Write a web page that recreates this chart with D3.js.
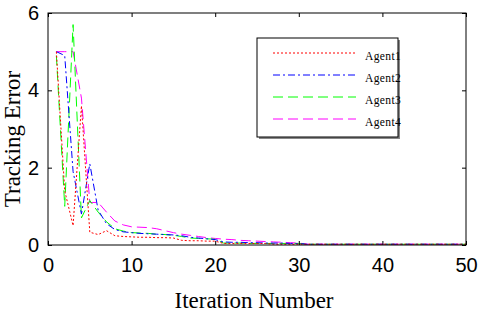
<!DOCTYPE html>
<html>
<head>
<meta charset="utf-8">
<script src="https://cdn.jsdelivr.net/npm/d3@7"></script>
<style>
  body { margin: 0; background: #fff; }
  svg { display: block; }
</style>
</head>
<body>
<div id="chart"></div>
<script>
const iterations = d3.range(1, 51)
const agent1 = [5, 1.4, 0.5, 3.6, 0.33, 0.27, 0.37, 0.24, 0.22, 0.21,
  0.2, 0.2, 0.19, 0.19, 0.18, 0.12, 0.11, 0.11, 0.1, 0.1,
  0.04, 0.04, 0.04, 0.04, 0.04, 0.04, 0.02, 0.02, 0.02, 0.02,
  0.02, 0.02, 0.02, 0.02, 0.02, 0.02, 0.02, 0.02, 0.02, 0.02,
  0.02, 0.02, 0.02, 0.02, 0.02, 0.02, 0.02, 0.02, 0.02, 0.02]
const agent2 = [5, 4.9, 1.9, 0.8, 2.1, 0.9, 0.55, 0.4, 0.34, 0.32,
  0.3, 0.29, 0.28, 0.27, 0.26, 0.24, 0.2, 0.18, 0.16, 0.14,
  0.08, 0.07, 0.07, 0.06, 0.06, 0.05, 0.05, 0.05, 0.04, 0.04,
  0.02, 0.02, 0.02, 0.02, 0.02, 0.02, 0.02, 0.02, 0.02, 0.02,
  0.02, 0.02, 0.02, 0.02, 0.02, 0.02, 0.02, 0.02, 0.02, 0.02]
const agent3 = [4.9, 1.0, 5.7, 0.7, 1.15, 0.85, 0.6, 0.42, 0.36, 0.32,
  0.31, 0.3, 0.28, 0.27, 0.25, 0.22, 0.18, 0.17, 0.16, 0.15,
  0.05, 0.05, 0.05, 0.04, 0.04, 0.04, 0.04, 0.04, 0.04, 0.04,
  0.02, 0.02, 0.02, 0.02, 0.02, 0.02, 0.02, 0.02, 0.02, 0.02,
  0.02, 0.02, 0.02, 0.02, 0.02, 0.02, 0.02, 0.02, 0.02, 0.02]
const agent4 = [5, 5, 5, 3.8, 1.1, 1.1, 0.85, 0.62, 0.52, 0.47,
  0.46, 0.45, 0.42, 0.37, 0.32, 0.28, 0.25, 0.22, 0.19, 0.17,
  0.15, 0.14, 0.12, 0.11, 0.1, 0.09, 0.08, 0.07, 0.06, 0.05,
  0.02, 0.02, 0.02, 0.02, 0.02, 0.02, 0.02, 0.02, 0.02, 0.02,
  0.02, 0.02, 0.02, 0.02, 0.02, 0.02, 0.02, 0.02, 0.02, 0.02]
const xTicks = [0, 10, 20, 30, 40, 50]
const yTicks = [0, 2, 4, 6]

const series = [
  { name: "Agent1", values: agent1, color: "#ff0000", dash: "2,2" },
  { name: "Agent2", values: agent2, color: "#0000ff", dash: "7,3,2,3" },
  { name: "Agent3", values: agent3, color: "#00ff00", dash: "10,5" },
  { name: "Agent4", values: agent4, color: "#ff00ff", dash: "10,5" }
]

const W = 480, H = 314
const margin = { top: 13, right: 14, bottom: 69, left: 48 }
const width = W - margin.left - margin.right
const height = H - margin.top - margin.bottom

const svg = d3.select("#chart").append("svg")
  .attr("width", W)
  .attr("height", H)

const g = svg.append("g")
  .attr("transform", `translate(${margin.left},${margin.top})`)

const x = d3.scaleLinear().domain([0, 50]).range([0, width])
const y = d3.scaleLinear().domain([0, 6]).range([height, 0])

// lines
const line = d3.line()
  .x((d, i) => x(iterations[i]))
  .y(d => y(d))

g.selectAll("path.series")
  .data(series.slice().reverse())
  .enter().append("path")
  .attr("class", "series")
  .attr("d", d => line(d.values))
  .attr("fill", "none")
  .attr("stroke", d => d.color)
  .attr("stroke-width", 1)
  .attr("stroke-dasharray", d => d.dash)

// axes, ticks inward
const tickFont = "Arial, 'Liberation Sans', sans-serif"
g.append("g")
  .attr("transform", `translate(0,${height})`)
  .call(d3.axisBottom(x).tickValues(xTicks).tickFormat(d3.format("d"))
    .tickSizeInner(-4).tickSizeOuter(0).tickPadding(13))
g.append("g")
  .call(d3.axisLeft(y).tickValues(yTicks).tickFormat(d3.format("d"))
    .tickSizeInner(-4).tickSizeOuter(0).tickPadding(9))
g.append("g")
  .call(d3.axisTop(x).tickValues(xTicks).tickSizeInner(-4).tickSizeOuter(0).tickFormat(""))
g.append("g")
  .attr("transform", `translate(${width},0)`)
  .call(d3.axisRight(y).tickValues(yTicks).tickSizeInner(-4).tickSizeOuter(0).tickFormat(""))

g.selectAll(".domain").remove()
g.selectAll(".tick line").attr("stroke", "#000")
g.selectAll(".tick text")
  .attr("fill", "#000")
  .style("font-family", tickFont)
  .style("font-size", "20px")

g.append("rect")
  .attr("width", width)
  .attr("height", height)
  .attr("fill", "none")
  .attr("stroke", "#000")
  .attr("stroke-width", 1)

// axis labels
const serif = "'Times New Roman', 'Liberation Serif', serif"
svg.append("text")
  .attr("x", 254)
  .attr("y", 308)
  .attr("text-anchor", "middle")
  .style("font-family", serif)
  .style("font-size", "23px")
  .text("Iteration Number")

svg.append("text")
  .attr("transform", "translate(20,139) rotate(-90)")
  .attr("text-anchor", "middle")
  .style("font-family", serif)
  .style("font-size", "23px")
  .text("Tracking Error")

// legend
const legend = svg.append("g").attr("transform", "translate(257,38)")
legend.append("rect")
  .attr("x", 2).attr("y", 2)
  .attr("width", 141).attr("height", 99)
  .attr("fill", "#888")
legend.append("rect")
  .attr("width", 141).attr("height", 99)
  .attr("fill", "#fff")
  .attr("stroke", "#000")

const items = legend.selectAll("g.item")
  .data(series)
  .enter().append("g")
  .attr("class", "item")
  .attr("transform", (d, i) => `translate(0,${15 + i * 22})`)

items.append("line")
  .attr("x1", 16).attr("x2", 99)
  .attr("stroke", d => d.color)
  .attr("stroke-dasharray", d => d.dash)

items.append("text")
  .attr("x", 108)
  .attr("y", 7)
  .style("font-family", serif)
  .style("font-size", "11.5px")
  .style("letter-spacing", "0.4px")
  .text(d => d.name)
</script>
</body>
</html>
